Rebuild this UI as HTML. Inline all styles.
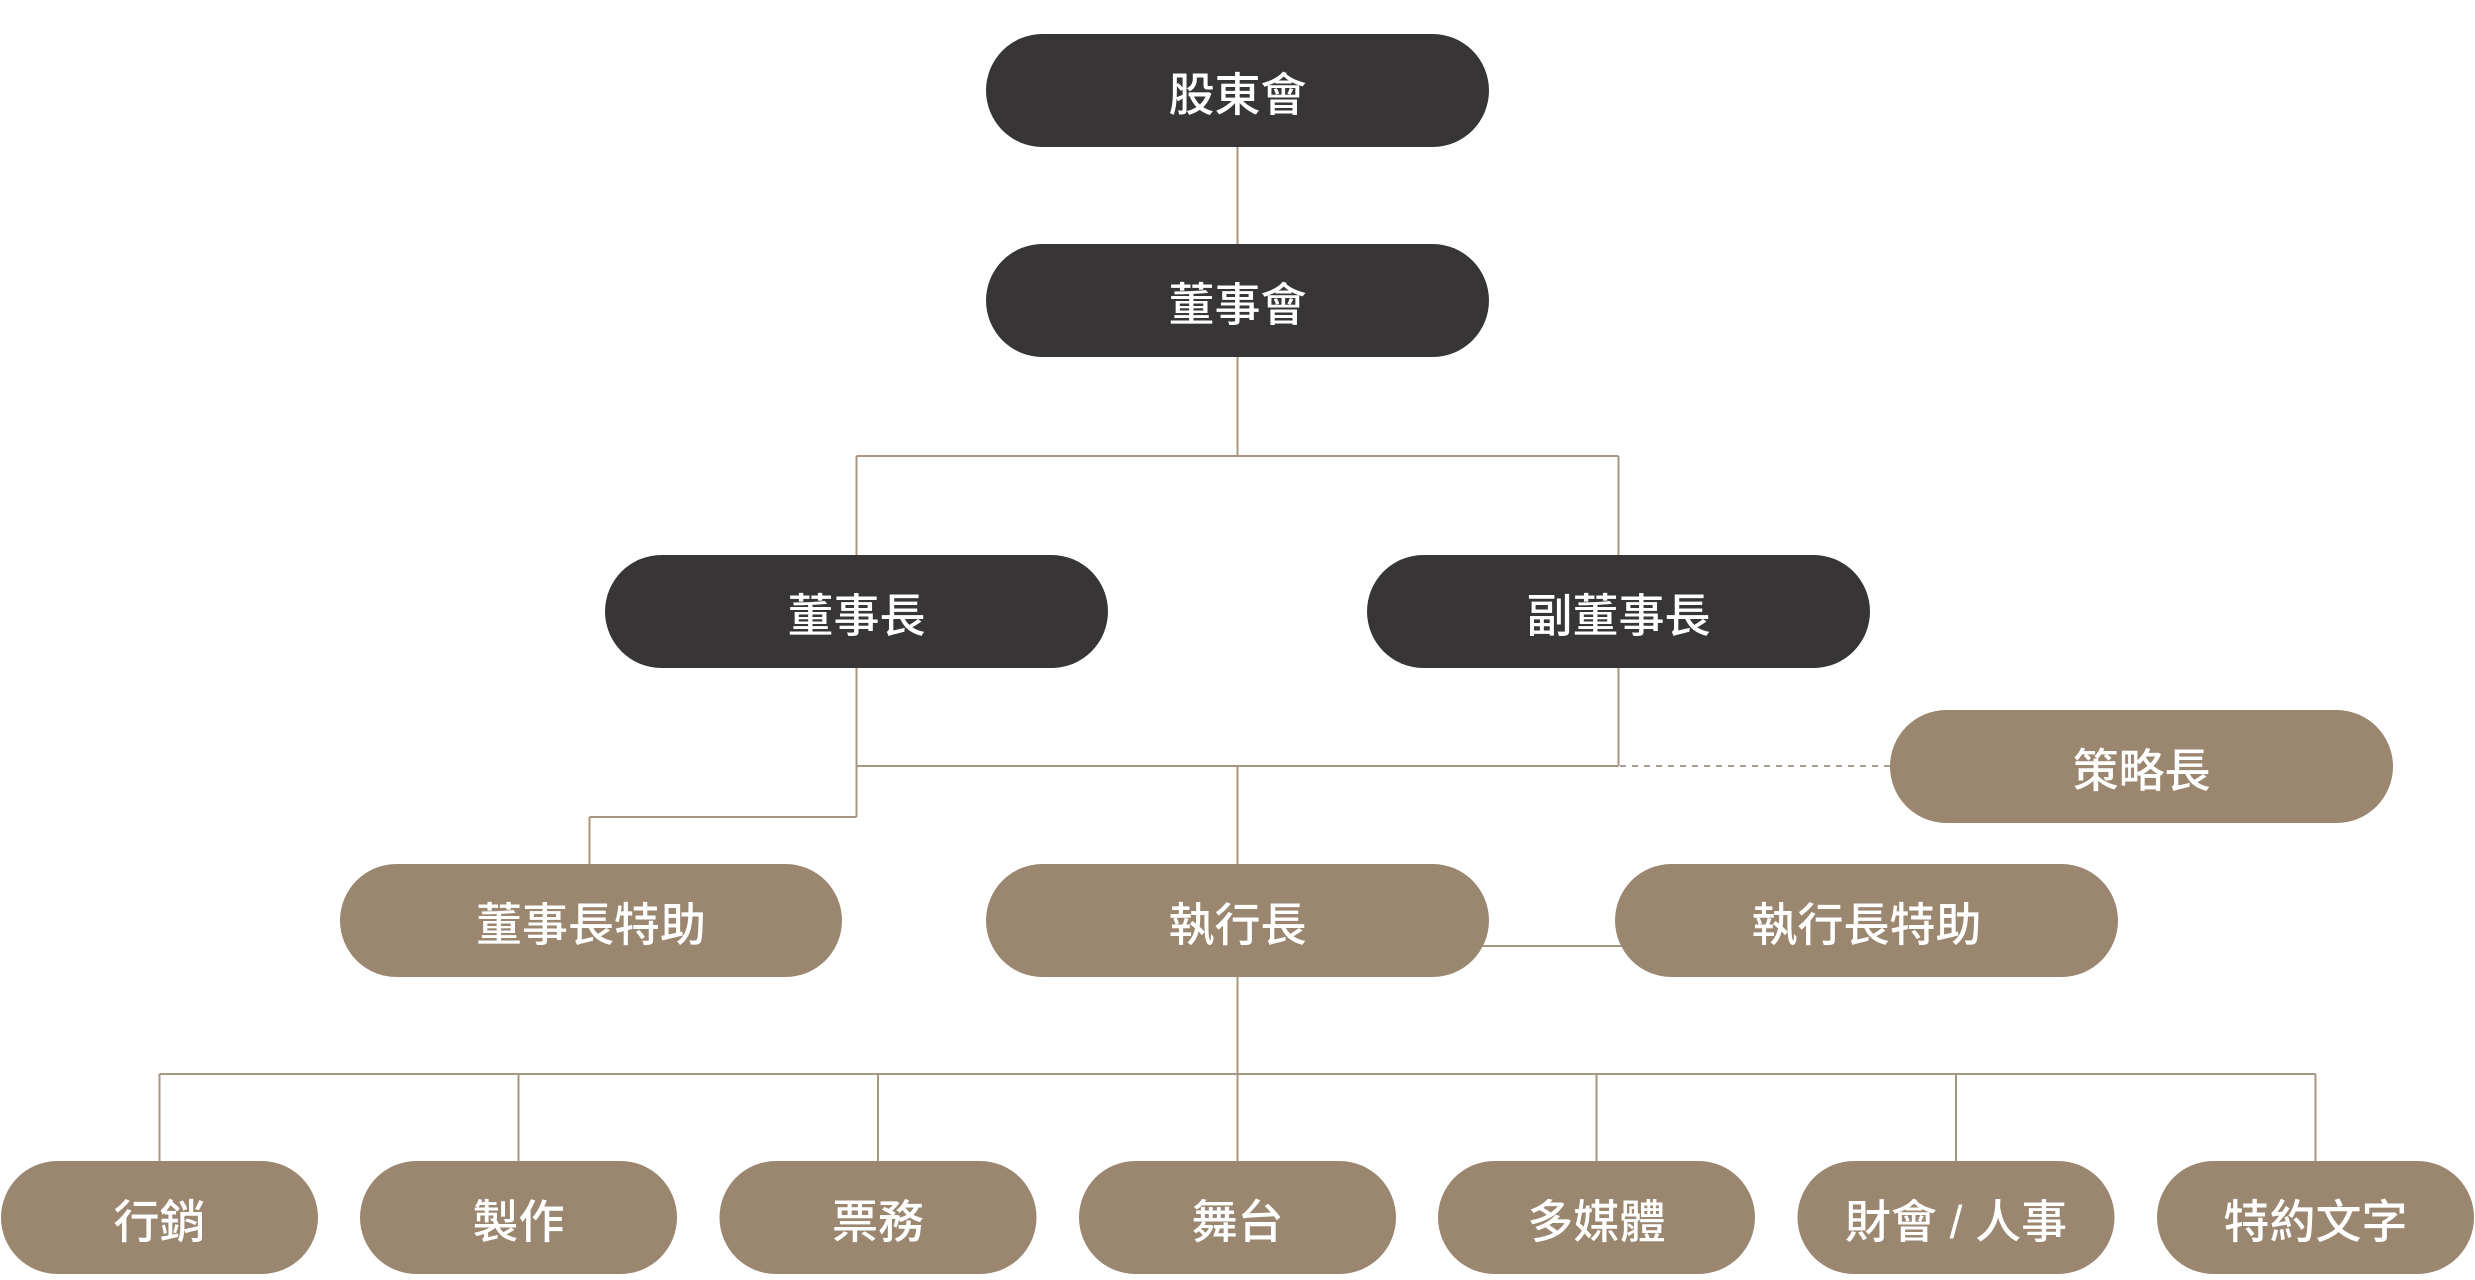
<!DOCTYPE html>
<html>
<head>
<meta charset="utf-8">
<style>
  html, body { margin: 0; padding: 0; background: #ffffff; }
  body { width: 2475px; height: 1280px; overflow: hidden; }
  svg { display: block; }
  text { font-family: "Liberation Sans", "Noto Sans CJK TC", "Noto Sans CJK SC", sans-serif; font-size: 46px; font-weight: 500; fill: #ffffff; text-anchor: middle; dominant-baseline: central; }
</style>
</head>
<body>
<svg width="2475" height="1280" viewBox="0 0 2475 1280" xmlns="http://www.w3.org/2000/svg">
  <g stroke="#a89682" stroke-width="2" fill="none">
    <line x1="1237.5" y1="140" x2="1237.5" y2="250"/>
    <line x1="1237.5" y1="350" x2="1237.5" y2="456"/>
    <line x1="856.5" y1="456" x2="1618.5" y2="456"/>
    <line x1="856.5" y1="456" x2="856.5" y2="560"/>
    <line x1="1618.5" y1="456" x2="1618.5" y2="560"/>
    <line x1="856.5" y1="660" x2="856.5" y2="817"/>
    <line x1="1618.5" y1="660" x2="1618.5" y2="766"/>
    <line x1="856.5" y1="766" x2="1618.5" y2="766"/>
    <line x1="589.5" y1="817" x2="856.5" y2="817"/>
    <line x1="589.5" y1="817" x2="589.5" y2="870"/>
    <line x1="1237.5" y1="766" x2="1237.5" y2="870"/>
    <line x1="1480" y1="946" x2="1625" y2="946"/>
    <line x1="1237.5" y1="970" x2="1237.5" y2="1074"/>
    <line x1="159.5" y1="1074" x2="2315.5" y2="1074"/>
    <line x1="159.5" y1="1074" x2="159.5" y2="1166"/>
    <line x1="518.5" y1="1074" x2="518.5" y2="1166"/>
    <line x1="878" y1="1074" x2="878" y2="1166"/>
    <line x1="1237.5" y1="1074" x2="1237.5" y2="1166"/>
    <line x1="1596.5" y1="1074" x2="1596.5" y2="1166"/>
    <line x1="1956" y1="1074" x2="1956" y2="1166"/>
    <line x1="2315.5" y1="1074" x2="2315.5" y2="1166"/>
  </g>
  <line x1="1620" y1="766" x2="1892" y2="766" stroke="#ab9d8f" stroke-width="2" stroke-dasharray="6,6"/>

  <g fill="#373535">
    <rect x="986" y="34" width="503" height="113" rx="56.5" ry="56.5"/>
    <rect x="986" y="244" width="503" height="113" rx="56.5" ry="56.5"/>
    <rect x="605" y="555" width="503" height="113" rx="56.5" ry="56.5"/>
    <rect x="1367" y="555" width="503" height="113" rx="56.5" ry="56.5"/>
  </g>
  <g fill="#9b8670">
    <rect x="1890" y="710" width="503" height="113" rx="56.5" ry="56.5"/>
    <rect x="340" y="864" width="502" height="113" rx="56.5" ry="56.5"/>
    <rect x="986" y="864" width="503" height="113" rx="56.5" ry="56.5"/>
    <rect x="1615" y="864" width="503" height="113" rx="56.5" ry="56.5"/>
    <rect x="1" y="1161" width="317" height="113" rx="56.5" ry="56.5"/>
    <rect x="360" y="1161" width="317" height="113" rx="56.5" ry="56.5"/>
    <rect x="719.5" y="1161" width="317" height="113" rx="56.5" ry="56.5"/>
    <rect x="1079" y="1161" width="317" height="113" rx="56.5" ry="56.5"/>
    <rect x="1438" y="1161" width="317" height="113" rx="56.5" ry="56.5"/>
    <rect x="1797.5" y="1161" width="317" height="113" rx="56.5" ry="56.5"/>
    <rect x="2157" y="1161" width="317" height="113" rx="56.5" ry="56.5"/>
  </g>

  <text x="1237.5" y="95">股東會</text>
  <text x="1237.5" y="305">董事會</text>
  <text x="856.5" y="616">董事長</text>
  <text x="1618.5" y="616">副董事長</text>
  <text x="2141.5" y="771">策略長</text>
  <text x="591" y="925">董事長特助</text>
  <text x="1237.5" y="925">執行長</text>
  <text x="1866.5" y="925">執行長特助</text>

  <text x="159.5" y="1222">行銷</text>
  <text x="518.5" y="1222">製作</text>
  <text x="878" y="1222">票務</text>
  <text x="1237.5" y="1222">舞台</text>
  <text x="1596.5" y="1222">多媒體</text>
  <text x="1956" y="1222">財會 / 人事</text>
  <text x="2315.5" y="1222">特約文字</text>
</svg>
</body>
</html>
